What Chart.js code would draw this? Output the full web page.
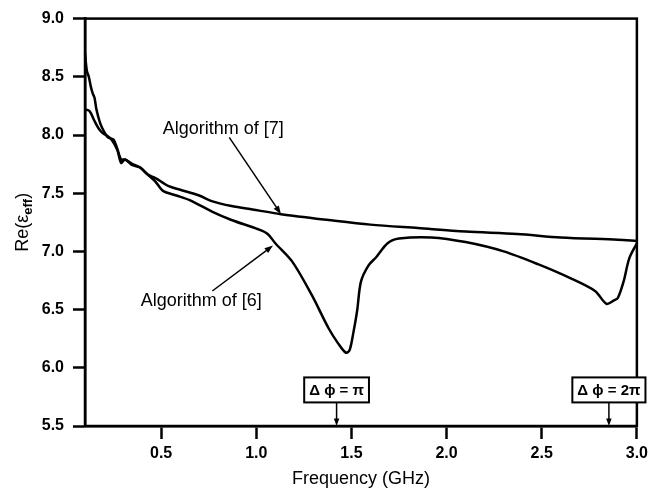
<!DOCTYPE html>
<html>
<head>
<meta charset="utf-8">
<script src="https://cdn.jsdelivr.net/npm/chart.js@4.4.0/dist/chart.umd.min.js"></script>
<style>
  html, body { margin: 0; padding: 0; background: #fff; }
  #wrap { width: 653px; height: 494px; }
</style>
</head>
<body>
<div id="wrap"><canvas id="epsChart" width="653" height="494"></canvas></div>
<script>
// Frequency (GHz) and Re(eps_eff)
const freq7 = [0.10, 0.11, 0.12, 0.13, 0.14, 0.15, 0.16, 0.18, 0.20, 0.22, 0.25, 0.27, 0.29, 0.31, 0.35, 0.39, 0.43, 0.47, 0.54, 0.60, 0.70, 0.77, 0.87, 0.98, 1.13, 1.38, 1.60, 1.85, 2.10, 2.37, 2.60, 2.90, 3.00];
const eps7  = [8.70, 8.55, 8.50, 8.42, 8.36, 8.32, 8.22, 8.10, 8.03, 7.98, 7.96, 7.88, 7.79, 7.79, 7.75, 7.72, 7.66, 7.63, 7.56, 7.53, 7.48, 7.43, 7.39, 7.36, 7.32, 7.27, 7.23, 7.20, 7.17, 7.15, 7.12, 7.10, 7.09];

const freq6 = [0.10, 0.12, 0.13, 0.15, 0.17, 0.19, 0.21, 0.24, 0.27, 0.29, 0.31, 0.35, 0.39, 0.43, 0.47, 0.51, 0.58, 0.65, 0.77, 0.87, 1.01, 1.06, 1.10, 1.19, 1.29, 1.38, 1.43, 1.47, 1.49, 1.51, 1.53, 1.55, 1.59, 1.63, 1.69, 1.75, 1.92, 2.10, 2.30, 2.48, 2.65, 2.78, 2.84, 2.88, 2.90, 2.93, 2.96, 3.00];
const eps6  = [8.22, 8.21, 8.19, 8.12, 8.06, 8.02, 8.00, 7.96, 7.87, 7.76, 7.79, 7.74, 7.72, 7.66, 7.60, 7.52, 7.48, 7.44, 7.34, 7.27, 7.19, 7.15, 7.07, 6.91, 6.63, 6.34, 6.21, 6.13, 6.15, 6.30, 6.49, 6.74, 6.88, 6.95, 7.07, 7.11, 7.12, 7.08, 7.00, 6.89, 6.77, 6.66, 6.55, 6.58, 6.60, 6.74, 6.94, 7.07];

const xTicks = [0.5, 1.0, 1.5, 2.0, 2.5, 3.0];
const yTicks = [5.5, 6.0, 6.5, 7.0, 7.5, 8.0, 8.5, 9.0];

// callouts, in data units
const curveLabels = [
  { text: 'Algorithm of [7]', x: 0.826, y: 8.05, from: [0.858, 7.98], to: [1.13, 7.32] },
  { text: 'Algorithm of [6]', x: 0.711, y: 6.57, from: [0.769, 6.66], to: [1.088, 7.05] }
];
const phaseMarks = [
  { text: 'Δ ϕ = π', x: 1.422, y: 5.81 },
  { text: 'Δ ϕ = 2π', x: 2.853, y: 5.81 }
];

const FONT = '"Liberation Sans", Arial, sans-serif';

function toPoints(xs, ys) {
  return xs.map((x, i) => ({ x: x, y: ys[i] }));
}

function arrow(ctx, x1, y1, x2, y2, head) {
  const a = Math.atan2(y2 - y1, x2 - x1);
  ctx.beginPath();
  ctx.moveTo(x1, y1);
  ctx.lineTo(x2 - Math.cos(a) * head * 0.8, y2 - Math.sin(a) * head * 0.8);
  ctx.stroke();
  ctx.beginPath();
  ctx.moveTo(x2, y2);
  ctx.lineTo(x2 - head * Math.cos(a - 0.35), y2 - head * Math.sin(a - 0.35));
  ctx.lineTo(x2 - head * Math.cos(a + 0.35), y2 - head * Math.sin(a + 0.35));
  ctx.closePath();
  ctx.fill();
}

const frameAndNotes = {
  id: 'frameAndNotes',
  afterDatasetsDraw(chart) {
    const ctx = chart.ctx;
    const area = chart.chartArea;
    const xs = chart.scales.x;
    const ys = chart.scales.y;
    ctx.save();
    ctx.strokeStyle = '#000';
    ctx.fillStyle = '#000';

    // box round the plot
    ctx.lineWidth = 2.5;
    ctx.strokeRect(area.left, area.top, area.right - area.left, area.bottom - area.top);

    // curve labels with arrows
    ctx.font = '18px ' + FONT;
    ctx.textAlign = 'center';
    ctx.textBaseline = 'middle';
    ctx.lineWidth = 1.5;
    curveLabels.forEach(l => {
      ctx.fillText(l.text, xs.getPixelForValue(l.x), ys.getPixelForValue(l.y));
      arrow(ctx, xs.getPixelForValue(l.from[0]), ys.getPixelForValue(l.from[1]),
        xs.getPixelForValue(l.to[0]), ys.getPixelForValue(l.to[1]), 9);
    });

    // phase boxes pointing down at the axis
    ctx.font = 'bold 15px ' + FONT;
    phaseMarks.forEach(m => {
      const cx = xs.getPixelForValue(m.x);
      const cy = ys.getPixelForValue(m.y);
      const w = ctx.measureText(m.text).width + 10;
      const h = 25;
      ctx.fillStyle = '#fff';
      ctx.fillRect(cx - w / 2, cy - h / 2, w, h);
      ctx.fillStyle = '#000';
      ctx.lineWidth = 2;
      ctx.strokeRect(cx - w / 2, cy - h / 2, w, h);
      ctx.fillText(m.text, cx, cy + 1);
      ctx.lineWidth = 1.5;
      arrow(ctx, cx, cy + h / 2, cx, ys.getPixelForValue(5.5), 8);
    });

    // y axis title with subscript
    ctx.translate(22, (area.top + area.bottom) / 2);
    ctx.rotate(-Math.PI / 2);
    ctx.textAlign = 'left';
    ctx.textBaseline = 'alphabetic';
    const main = '18px ' + FONT;
    const sub = 'bold 13px ' + FONT;
    ctx.font = main;
    const w1 = ctx.measureText('Re(ε').width;
    const w3 = ctx.measureText(')').width;
    ctx.font = sub;
    const w2 = ctx.measureText('eff').width;
    let x0 = -(w1 + w2 + w3) / 2;
    ctx.font = main;
    ctx.fillText('Re(ε', x0, 6);
    ctx.font = sub;
    ctx.fillText('eff', x0 + w1, 10);
    ctx.font = main;
    ctx.fillText(')', x0 + w1 + w2, 6);
    ctx.restore();
  }
};

const ctx = document.getElementById('epsChart').getContext('2d');
const epsChart = new Chart(ctx, {
  type: 'line',
  data: {
    datasets: [
      {
        label: 'Algorithm of [7]',
        data: toPoints(freq7, eps7),
        borderColor: '#000',
        borderWidth: 2.5,
        pointRadius: 0,
        tension: 0.3,
        fill: false
      },
      {
        label: 'Algorithm of [6]',
        data: toPoints(freq6, eps6),
        borderColor: '#000',
        borderWidth: 2.5,
        pointRadius: 0,
        tension: 0.3,
        fill: false
      }
    ]
  },
  options: {
    responsive: false,
    animation: false,
    layout: { padding: { top: 15, right: 13, left: 0, bottom: 0 } },
    plugins: {
      legend: { display: false },
      tooltip: { enabled: false }
    },
    scales: {
      x: {
        type: 'linear',
        min: 0.1,
        max: 3.0,
        afterBuildTicks: s => { s.ticks = xTicks.map(v => ({ value: v })); },
        afterFit: s => { s.height = 68; },
        grid: { drawOnChartArea: false, drawTicks: true, tickLength: 13, tickWidth: 2.5, tickColor: '#000' },
        border: { display: true, color: '#000', width: 2.5 },
        ticks: {
          color: '#000',
          font: { family: FONT, size: 16, weight: 'bold' },
          padding: 5,
          maxRotation: 0,
          callback: v => v.toFixed(1)
        },
        title: {
          display: true,
          text: 'Frequency (GHz)',
          color: '#000',
          font: { family: FONT, size: 18 },
          padding: { top: 2 }
        }
      },
      y: {
        type: 'linear',
        min: 5.5,
        max: 9.0,
        afterBuildTicks: s => { s.ticks = yTicks.map(v => ({ value: v })); },
        afterFit: s => { s.width = 85; },
        grid: { drawOnChartArea: false, drawTicks: true, tickLength: 12, tickWidth: 2.5, tickColor: '#000' },
        border: { display: true, color: '#000', width: 2.5 },
        ticks: {
          color: '#000',
          font: { family: FONT, size: 16, weight: 'bold' },
          padding: 9,
          callback: v => v.toFixed(1)
        }
      }
    }
  },
  plugins: [frameAndNotes]
});
</script>
</body>
</html>
